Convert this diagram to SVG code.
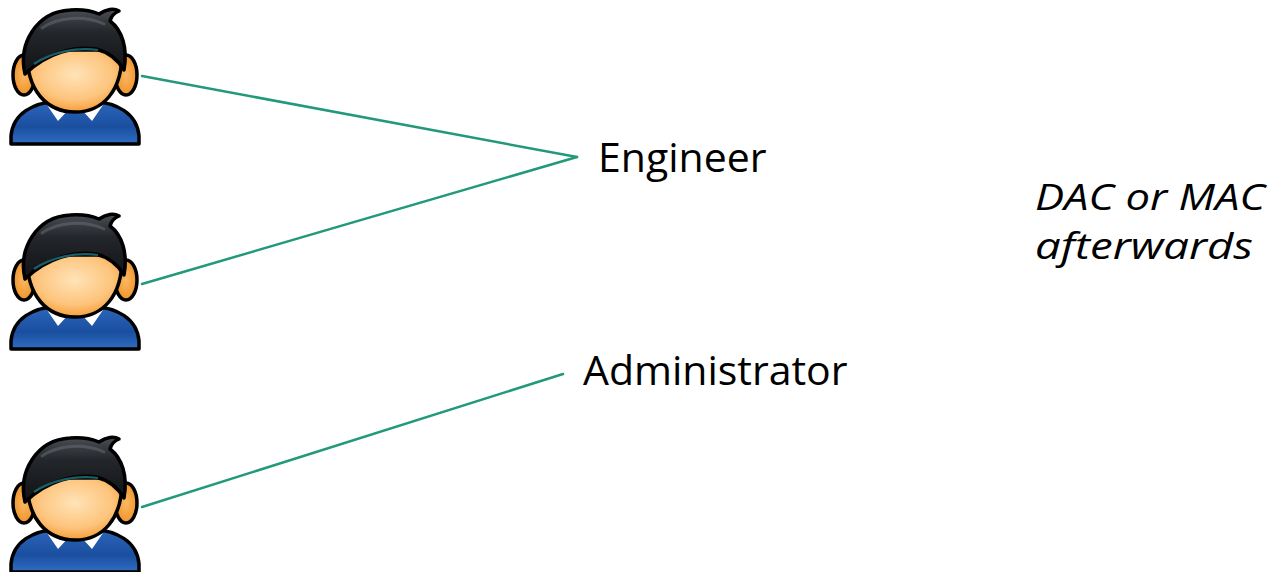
<svg xmlns="http://www.w3.org/2000/svg" xmlns:xlink="http://www.w3.org/1999/xlink" width="1281" height="572" viewBox="0 0 1281 572">
  <style>
    .label { font-family: "Open Sans", "Noto Sans", sans-serif; font-size: 41px; fill: #000; }
    .note { font-family: "Open Sans", "Noto Sans", sans-serif; font-size: 37px; font-style: italic; fill: #000; }
    .link { stroke: #21997a; stroke-width: 2.5; fill: none; stroke-linecap: round; }
    .outline { stroke: #000; stroke-width: 3.5; stroke-linejoin: round; }
  </style>
  <defs>
    <linearGradient id="shirt" x1="0" y1="0" x2="0" y2="1">
      <stop offset="0" stop-color="#2d66bd"/>
      <stop offset="0.6" stop-color="#1a4f9f"/>
      <stop offset="1" stop-color="#2f6cc2"/>
    </linearGradient>
    <radialGradient id="skin" cx="0.5" cy="0.4" r="0.62">
      <stop offset="0" stop-color="#ffe3b8"/>
      <stop offset="0.65" stop-color="#fdc47c"/>
      <stop offset="1" stop-color="#f59a32"/>
    </radialGradient>
    <radialGradient id="ear" cx="0.5" cy="0.5" r="0.6">
      <stop offset="0" stop-color="#fbb864"/>
      <stop offset="1" stop-color="#ee8e20"/>
    </radialGradient>
    <linearGradient id="hair" x1="0" y1="0" x2="0" y2="1">
      <stop offset="0" stop-color="#4a4e55"/>
      <stop offset="0.35" stop-color="#23262a"/>
      <stop offset="1" stop-color="#111316"/>
    </linearGradient>
    <!-- person icon: shirt, collar, ears, face, hair -->
    <g id="person">
      <path class="outline" fill="url(#shirt)" d="M11,144 L11,136 C13,113 33,103 58,101 L92,101 C117,103 137,113 139,136 L139,144 Z"/>
      <path fill="#fff" d="M47,105 L69,109 L58,121 Z M81,109 L103,105 L92,121 Z"/>
      <ellipse class="outline" fill="url(#ear)" cx="24" cy="75" rx="11" ry="20"/>
      <ellipse class="outline" fill="url(#ear)" cx="126" cy="75" rx="11" ry="20"/>
      <path class="outline" fill="url(#skin)" d="M27,50 C26,92 48,112 75,112 C102,112 123,92 122,50 Z"/>
      <path class="outline" fill="url(#hair)" d="M25,74 C18,44 36,12 70,10 C82,9 92,11 99,14 C106,9 114,8 119,11 C114,13 111,17 110,21 C122,30 128,48 124,70 C118,60 108,52 96,49 C75,46 48,52 25,74 Z"/>
      <path d="M34,64 C52,52 76,47 98,50" stroke="#1d6f7a" stroke-width="2.2" fill="none" opacity="0.85"/>
      <path d="M42,28 C58,17 84,15 104,24" stroke="#70757d" stroke-width="3" fill="none" opacity="0.45" stroke-linecap="round"/>
    </g>
  </defs>

  <g id="connectors">
    <line class="link" x1="142" y1="76" x2="577" y2="157"/>
    <line class="link" x1="142" y1="284" x2="577" y2="157"/>
    <line class="link" x1="142" y1="507" x2="563" y2="374"/>
  </g>

  <g id="user1"><use xlink:href="#person"/></g>
  <g id="user2"><use xlink:href="#person" transform="translate(0,205)"/></g>
  <g id="user3"><use xlink:href="#person" transform="translate(0,428)"/></g>

  <g id="engineer"><text class="label" x="598" y="172">Engineer</text></g>
  <g id="administrator"><text class="label" x="583" y="385">Administrator</text></g>
  <g id="note">
    <text class="note" x="1035" y="210" textLength="230" lengthAdjust="spacingAndGlyphs">DAC or MAC</text>
    <text class="note" x="1035" y="259" textLength="218" lengthAdjust="spacingAndGlyphs">afterwards</text>
  </g>
</svg>
